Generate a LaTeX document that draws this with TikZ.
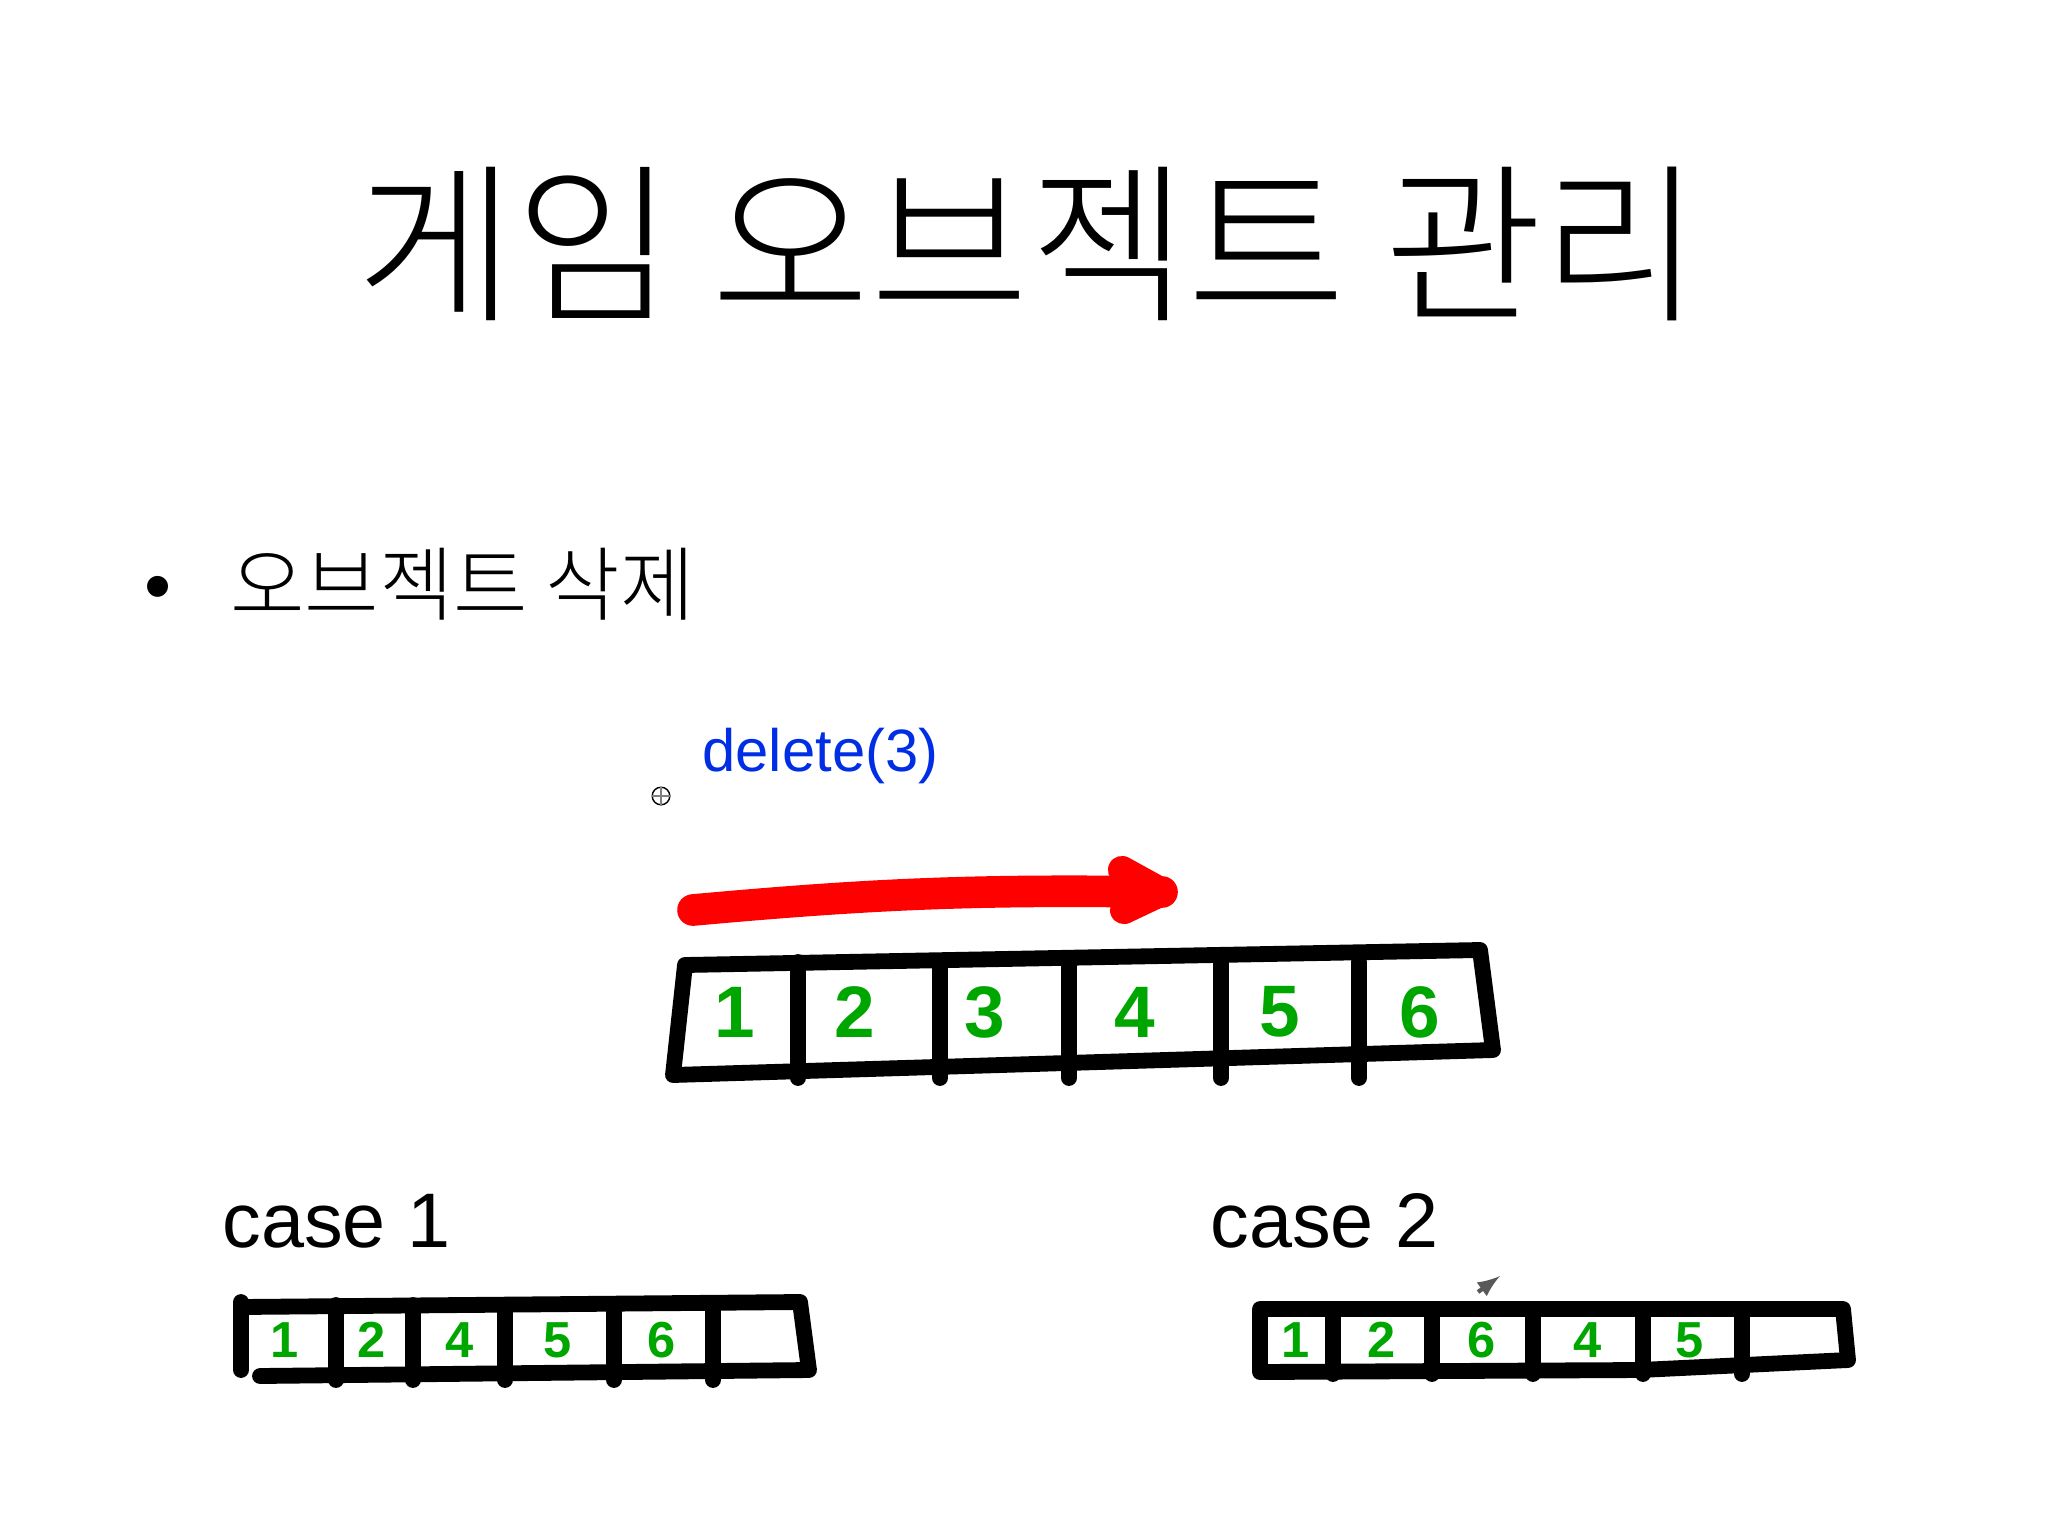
\documentclass[tikz,border=0pt]{standalone}
\usepackage{fontspec}
\setmainfont{Liberation Sans}
\newfontfamily\kr{Noto Sans CJK KR Light}
\begin{document}
\begin{tikzpicture}[x=0.01cm,y=-0.01cm,
  arr/.style={draw=black,line width=4.5pt,line join=round,line cap=round},
  num/.style={text=green!65!black,font=\bfseries\Large},
  bignum/.style={text=green!65!black,font=\bfseries\huge}]
\useasboundingbox (0,0) rectangle (2048,1536);
\node[font=\kr\fontsize{49}{56}\selectfont] (title) at (1029,244) {게임 오브젝트 관리};
\node[font=\fontsize{22}{26}\selectfont] (bul) at (158,594) {•};
\node[anchor=west,font=\kr\fontsize{23}{28}\selectfont] (sub) at (218,584) {오브젝트 삭제};
\node[anchor=west,text=blue!80!cyan!90!black,font=\fontsize{17}{21}\selectfont] (del) at (690,756) {delete(3)};
\node[draw,circle,inner sep=0pt,minimum size=5pt,font=\tiny] (cur) at (661,796) {};
\draw[gray] (cur.north)--(cur.south) (cur.west)--(cur.east);
\coordinate (ra) at (693,910); \coordinate (rb) at (1162,892);
\draw[red,line width=9pt,line cap=round] (ra) to[bend left=3] (rb);
\draw[red,line width=8pt,line cap=round,line join=round] (1122,870)--(1162,892)--(1124,910);
% main array
\draw[arr] (685,965)--(1480,950)--(1493,1050)--(673,1075) -- (685,965);
\foreach \x in {798,940,1069,1221,1359}{\draw[arr] (\x,962)--(\x,1078);}
\foreach \n/\x in {1/735,2/855,3/985,4/1135,5/1280,6/1420}{\node[bignum] (mn\n) at (\x,1012) {\n};}
% case 1
\node[anchor=west,font=\fontsize{22}{26}\selectfont] (c1) at (210,1221) {case 1};
\draw[arr] (241,1307)--(800,1302)--(809,1370)--(260,1376);
\draw[arr] (241,1302)--(241,1370);
\foreach \x in {336,413,505,614,713}{\draw[arr] (\x,1305)--(\x,1380);}
\foreach \n/\k/\x in {a/1/285,b/2/372,c/4/460,d/5/558,e/6/662}{\node[num] (c1\n) at (\x,1340) {\k};}
% case 2
\node[anchor=west,font=\fontsize{22}{26}\selectfont] (c2) at (1198,1221) {case 2};
\draw[arr] (1260,1309)--(1843,1309)--(1848,1360)--(1640,1370)--(1260,1372)--cycle;
\foreach \x in {1333,1432,1533,1643,1742}{\draw[arr] (\x,1310)--(\x,1374);}
\foreach \n/\k/\x in {a/1/1296,b/2/1382,c/6/1482,d/4/1588,e/5/1690}{\node[num] (c2\n) at (\x,1340) {\k};}
\coordinate (pa) at (1478,1292); \coordinate (pb) at (1500,1276);
\draw[gray!70!black,line width=1.2pt,-latex] (pa)--(pb);
\end{tikzpicture}
\end{document}
